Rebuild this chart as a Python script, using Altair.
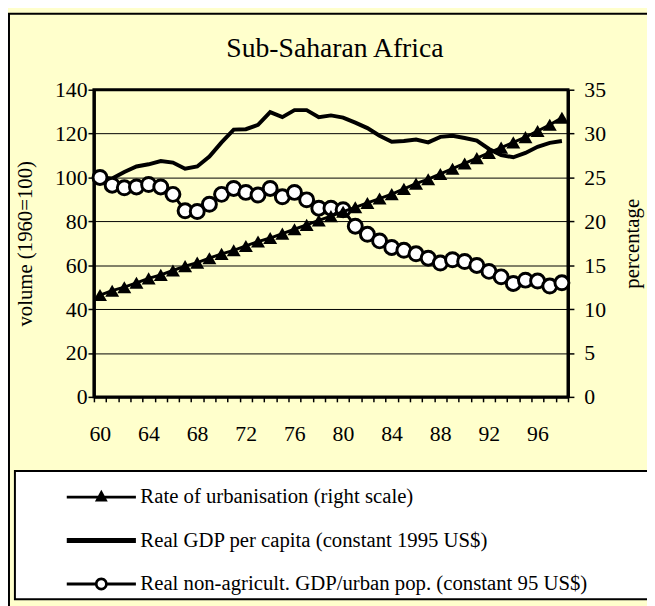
import altair as alt
import pandas as pd

years = list(range(1960, 1999))
urbanisation = [11.6, 12.1, 12.5, 13.0, 13.5, 13.9, 14.4, 14.9, 15.3, 15.8,
                16.3, 16.7, 17.2, 17.7, 18.1, 18.6, 19.1, 19.6, 20.1, 20.6,
                21.1, 21.6, 22.1, 22.6, 23.1, 23.7, 24.3, 24.8, 25.4, 26.0,
                26.6, 27.2, 27.8, 28.4, 29.0, 29.6, 30.3, 31.0, 31.8]
gdp_per_capita = [100, 99.5, 102.5, 105, 106, 107.5, 106.8, 104, 105, 109.5,
                  116, 121.8, 122, 124, 129.8, 127.5, 130.7, 130.7, 127.5, 128.3,
                  127.3, 125, 122.5, 119, 116.3, 116.6, 117.3, 116, 118.5, 119,
                  118, 116.8, 113, 110.2, 109.2, 111.2, 114, 115.8, 116.6]
non_agri = [100, 96.5, 95.3, 95.7, 96.8, 95.7, 92.3, 84.8, 84.5, 87.8,
            92.3, 95, 93.2, 92, 95, 91.2, 93.2, 89.8, 86, 86,
            85.3, 77.8, 74.1, 71.1, 68.1, 66.8, 65.2, 63.2, 61, 62.5,
            61.7, 59.9, 57.2, 54.7, 51.7, 53.2, 52.8, 50.5, 52]

chart_title = "Sub-Saharan Africa"
series_names = ["Rate of urbanisation (right scale)",
                "Real GDP per capita (constant 1995 US$)",
                "Real non-agricult. GDP/urban pop. (constant 95 US$)"]
left_ticks = [0, 20, 40, 60, 80, 100, 120, 140]
right_ticks = [0, 5, 10, 15, 20, 25, 30, 35]

df = pd.DataFrame({"year": years, "urb": urbanisation,
                   "gdp": gdp_per_capita, "nonagri": non_agri})

FONT = "Times New Roman, Liberation Serif, DejaVu Serif, serif"
W, H = 480, 311
TICK_FS = 22

# legend symbols (custom paths, 1 unit = 10px at symbolSize 400)
sym_triangle = "M-1,-0.15H6V0.15H-1Z M2.5,-0.75L3.15,0.45H1.85Z"
sym_thick = "M-1,-0.25H6V0.25H-1Z"
sym_circle = ("M-1,-0.15H1.9V0.15H-1Z M3.1,-0.15H6V0.15H3.1Z "
              "M1.85,0A0.65,0.65,0,1,1,3.15,0A0.65,0.65,0,1,1,1.85,0Z "
              "M2.12,0A0.38,0.38,0,1,0,2.88,0A0.38,0.38,0,1,0,2.12,0Z")

x_enc = alt.X(
    "year:Q",
    scale=alt.Scale(domain=[1959.5, 1998.5], nice=False, zero=False),
    axis=alt.Axis(
        values=[1959.5 + i for i in range(40)],
        labelExpr="(datum.value + 0.5) % 4 == 0 ? substring(toString(datum.value + 0.5), 2, 4) : ''",
        labelOffset=6, labelOverlap=False, labelFlush=False, labelBound=False,
        tickSize=5, tickWidth=1.5, tickColor="black",
        domainWidth=3, domainColor="black",
        labelPadding=22, labelFontSize=TICK_FS, labelFont=FONT, labelColor="black",
        grid=False, title=None,
    ),
)

left_scale = alt.Scale(domain=[0, 140], nice=False)
left_axis = alt.Axis(
    values=left_ticks, grid=True, gridColor="black", gridWidth=1,
    domainWidth=3, domainColor="black", tickSize=6, tickWidth=1.5, tickColor="black",
    labelFont=FONT, labelFontSize=TICK_FS, labelColor="black", labelPadding=1,
    title="volume (1960=100)", titleFont=FONT, titleFontSize=21,
    titleFontWeight="normal", titleColor="black", titlePadding=19,
)
right_scale = alt.Scale(domain=[0, 35], nice=False)
right_axis = alt.Axis(
    orient="right", values=right_ticks, grid=False,
    domainWidth=3, domainColor="black", tickSize=6, tickWidth=1.5, tickColor="black",
    labelFont=FONT, labelFontSize=TICK_FS, labelColor="black", labelPadding=10,
    title="percentage", titleFont=FONT, titleFontSize=21, titleAngle=270,
    titleFontWeight="normal", titleColor="black", titlePadding=37,
)

base = alt.Chart(df)

gdp_line = base.mark_line(color="black", strokeWidth=4).encode(
    x=x_enc, y=alt.Y("gdp:Q", scale=left_scale, axis=left_axis))
na_line = base.mark_line(color="black", strokeWidth=3).encode(
    x=x_enc, y=alt.Y("nonagri:Q", scale=left_scale, axis=left_axis))
na_pts = base.mark_point(shape="circle", size=200, filled=True, fill="white",
                         stroke="black", strokeWidth=3, opacity=1).encode(
    x=x_enc, y=alt.Y("nonagri:Q", scale=left_scale, axis=left_axis))
left_layer = alt.layer(gdp_line, na_line, na_pts)

urb_line = base.mark_line(color="black", strokeWidth=3).encode(
    x=x_enc, y=alt.Y("urb:Q", scale=right_scale, axis=right_axis))
urb_pts = base.mark_point(shape="triangle-up", size=200, filled=True, color="black",
                          opacity=1).encode(
    x=x_enc, y=alt.Y("urb:Q", scale=right_scale, axis=right_axis))
right_layer = alt.layer(urb_line, urb_pts)

one = alt.Chart(pd.DataFrame({"t": [chart_title]}))
frame = one.mark_rect(fillOpacity=0, stroke="black", strokeWidth=2).encode(
    x=alt.value(-86), x2=alt.value(620), y=alt.value(-77), y2=alt.value(640))
legend_box = one.mark_rect(fill="white", stroke="black", strokeWidth=2).encode(
    x=alt.value(-80), x2=alt.value(620), y=alt.value(386), y2=alt.value(516))
title_text = one.mark_text(font=FONT, fontSize=28, color="black", align="center",
                           baseline="middle").encode(
    text="t:N", x=alt.value(244), y=alt.value(-41))

legend_layer = alt.Chart(pd.DataFrame({"series": series_names})).mark_point(
    filled=True, opacity=0, color="black").encode(
    shape=alt.Shape(
        "series:N",
        scale=alt.Scale(domain=series_names, range=[sym_triangle, sym_thick, sym_circle]),
        sort=None,
        legend=alt.Legend(
            orient="none", legendX=-28, legendY=402, title=None,
            symbolSize=400, symbolOpacity=1, symbolFillColor="black",
            symbolStrokeColor="black", symbolStrokeWidth=0, symbolOffset=0,
            labelOffset=54, rowPadding=22, padding=0,
            labelFont=FONT, labelFontSize=21, labelColor="black", labelLimit=700,
        ),
    )
)

chart = alt.layer(frame, legend_box, title_text, left_layer, right_layer,
                  legend_layer).resolve_scale(
    y="independent"
).properties(
    width=W, height=H,
    autosize=alt.AutoSizeParams(type="none"),
    padding={"left": 87, "top": 79, "right": 80, "bottom": 208},
    background="#FFFFCC",
).configure_view(
    fill="#FAF8C6", stroke="black", strokeWidth=3
)

chart.save("out.html", embed_options={"renderer": "svg", "actions": False})
